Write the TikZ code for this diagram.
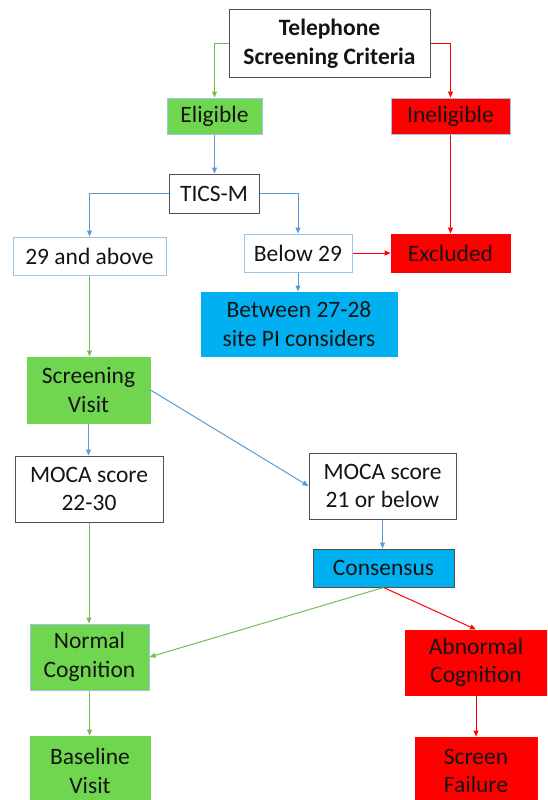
\documentclass[tikz,border=0pt]{standalone}
\usepackage{fontspec}
\setmainfont{Carlito}
\usetikzlibrary{arrows.meta}
\definecolor{gfill}{RGB}{112,214,80}
\definecolor{rfill}{RGB}{255,0,0}
\definecolor{bfill}{RGB}{0,176,240}
\definecolor{lblue}{RGB}{157,195,230}
\definecolor{darkb}{RGB}{80,80,80}
\definecolor{garr}{RGB}{112,192,80}
\definecolor{barr}{RGB}{91,155,213}
\definecolor{txt}{RGB}{20,20,20}
\tikzset{
  box/.style={rectangle, inner sep=0pt, align=center, text=txt,
    font=\fontsize{23.5}{28.5}\selectfont, line width=1pt},
  wbox/.style={box, draw=darkb, fill=white},
  lbox/.style={box, draw=lblue, fill=white},
  gbox/.style={box, draw=lblue, fill=gfill},
  rbox/.style={box, draw=rfill, fill=rfill},
  rlbox/.style={box, draw=lblue, fill=rfill},
  bbox/.style={box, draw=bfill, fill=bfill},
  cbox/.style={box, draw=darkb, fill=bfill},
  conn/.style={line width=1pt, -{Triangle[length=6pt,width=5pt]}},
  garrow/.style={conn, draw=garr},
  rarrow/.style={conn, draw=rfill},
  barrow/.style={conn, draw=barr},
}
\begin{document}
\begin{tikzpicture}[x=1pt,y=1pt]
\useasboundingbox (0,0) rectangle (547,-800);
\begin{scope}
\clip (0,0) rectangle (547,-800);
\node[wbox, minimum width=201pt, minimum height=67pt, font=\fontsize{23.5}{28.5}\selectfont\bfseries] (tel) at (329.5,-43.5) {Telephone\\Screening Criteria};
\node[gbox, minimum width=95pt, minimum height=36pt] (elig) at (214.5,-116) {Eligible};
\node[rlbox, minimum width=119pt, minimum height=36pt] (inel) at (450.5,-116) {Ineligible};
\node[wbox, minimum width=90pt, minimum height=39pt] (tics) at (214,-193.5) {TICS-M};
\node[lbox, minimum width=153pt, minimum height=38pt] (a29) at (89.5,-256) {29 and above};
\node[lbox, minimum width=108pt, minimum height=38pt] (b29) at (298,-253) {Below 29};
\node[rbox, minimum width=119pt, minimum height=38pt] (excl) at (450.5,-253) {Excluded};
\node[bbox, minimum width=196pt, minimum height=64pt] (betw) at (299,-324) {Between 27-28\\site PI considers};
\node[gbox, draw=gfill, minimum width=123pt, minimum height=66pt] (scr) at (88.5,-390) {Screening\\Visit};
\node[wbox, minimum width=148pt, minimum height=66pt] (m22) at (89,-489) {MOCA score\\22-30};
\node[wbox, minimum width=147pt, minimum height=66pt] (m21) at (382.5,-486) {MOCA score\\21 or below};
\node[cbox, minimum width=141pt, minimum height=38pt] (cons) at (383.5,-568) {Consensus};
\node[gbox, minimum width=119pt, minimum height=66pt] (norm) at (89.5,-657) {Normal\\Cognition};
\node[rbox, minimum width=142pt, minimum height=65pt] (abn) at (476,-662.5) {Abnormal\\Cognition};
\node[gbox, draw=gfill, minimum width=120pt, minimum height=70pt] (base) at (90,-771) {Baseline\\Visit};
\node[rbox, minimum width=122pt, minimum height=68pt] (fail) at (476,-771) {Screen\\Failure};
\end{scope}
\draw[garrow] (tel.west) -| (elig.north);
\draw[rarrow] (tel.east) -| (inel.north);
\draw[barrow] (elig.south) -- (elig.south |- tics.north);
\draw[barrow] (tics.west) -| (a29.north);
\draw[barrow] (tics.east) -| (b29.north);
\draw[rarrow] (b29.east) -- (excl.west);
\draw[rarrow] (inel.south) -- (excl.north);
\draw[barrow] (b29.south) -- (b29.south |- betw.north);
\draw[garrow] (a29.south) -- (a29.south |- scr.north);
\draw[barrow] (scr.east) -- (m21.west);
\draw[barrow] (scr.south) -- (scr.south |- m22.north);
\draw[garrow] (m22.south) -- (m22.south |- norm.north);
\draw[barrow] (m21.south) -- (m21.south |- cons.north);
\draw[garrow] (cons.south) -- (norm.east);
\draw[rarrow] (cons.south) -- (abn.north);
\draw[rarrow] (abn.south) -- (fail.north);
\draw[garrow] (norm.south) -- (norm.south |- base.north);
\end{tikzpicture}
\end{document}
